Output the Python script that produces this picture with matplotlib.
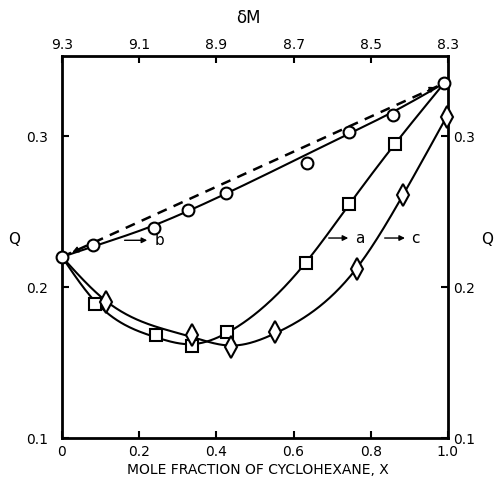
import numpy as np
import matplotlib
matplotlib.use("Agg")
import matplotlib.pyplot as plt

# ---- data ----
# curve b (circles)
b_x = [0.0, 0.080, 0.238, 0.326, 0.425, 0.744, 0.858, 0.99]
b_q = [0.220, 0.228, 0.239, 0.251, 0.262, 0.303, 0.314, 0.335]
b_out_x = [0.635]
b_out_q = [0.282]
# curve a (squares)
a_x = [0.085, 0.244, 0.337, 0.427, 0.632, 0.744, 0.863]
a_q = [0.189, 0.168, 0.161, 0.170, 0.216, 0.255, 0.295]
# curve c (diamonds)
c_x = [0.114, 0.337, 0.438, 0.552, 0.764, 0.883, 0.997]
c_q = [0.190, 0.168, 0.160, 0.170, 0.212, 0.261, 0.313]
# common end points
end_x = [0.0, 0.99]
end_q = [0.220, 0.335]

bottom_ticks = [0, 0.2, 0.4, 0.6, 0.8, 1.0]
bottom_labels = ["0", "0.2", "0.4", "0.6", "0.8", "1.0"]
top_labels = ["9.3", "9.1", "8.9", "8.7", "8.5", "8.3"]
q_ticks = [0.1, 0.2, 0.3]
q_labels = ["0.1", "0.2", "0.3"]


def smooth_curve(xs, ys, lam=3e-6, n=300, end_w=200.0):
    """Penalised smoothing spline on a fine grid (hand-drawn-like curve)."""
    x = np.asarray(xs, float)
    y = np.asarray(ys, float)
    xx = np.linspace(x.min(), x.max(), n)
    h = xx[1] - xx[0]
    B = np.zeros((len(x), n))
    for i, xi in enumerate(x):
        j = min(int((xi - xx[0]) / h), n - 2)
        t = (xi - xx[j]) / h
        B[i, j] = 1 - t
        B[i, j + 1] = t
    w = np.ones(len(x))
    w[np.argmin(x)] = end_w
    w[np.argmax(x)] = end_w
    D = np.diff(np.eye(n), 2, axis=0)
    A = B.T @ (w[:, None] * B) + (lam / h ** 3) * D.T @ D
    f = np.linalg.solve(A, B.T @ (w * y))
    return xx, f


fig = plt.figure(figsize=(4.96, 4.84), dpi=100)
ax = fig.add_axes([0.125, 0.095, 0.778, 0.789])
ax.set_xlim(0, 1.0)
ax.set_ylim(0.1, 0.353)

lw = 1.5
# dashed straight line between end points, with small arrow heads
ax.plot(end_x, end_q, ls=(0, (4, 3)), color="black", lw=1.8, zorder=2)
head = dict(arrowstyle="-|>", color="black", lw=1.0, mutation_scale=9)
dx = end_x[1] - end_x[0]
dq = end_q[1] - end_q[0]
ax.annotate("", xy=(end_x[0] + 0.02 * dx, end_q[0] + 0.02 * dq),
            xytext=(end_x[0] + 0.05 * dx, end_q[0] + 0.05 * dq), arrowprops=head)
ax.annotate("", xy=(end_x[1] - 0.015 * dx, end_q[1] - 0.015 * dq),
            xytext=(end_x[1] - 0.05 * dx, end_q[1] - 0.05 * dq), arrowprops=head)

bx, bq = smooth_curve(b_x, b_q, lam=6e-4)
ax.plot(bx, bq, color="black", lw=lw, zorder=2)
xx, yy = smooth_curve([end_x[0]] + a_x + [end_x[1]], [end_q[0]] + a_q + [end_q[1]], lam=4e-5)
ax.plot(xx, yy, color="black", lw=lw, zorder=2)
xx, yy = smooth_curve([end_x[0]] + c_x, [end_q[0]] + c_q, lam=4e-5)
ax.plot(xx, yy, color="black", lw=lw, zorder=2)

mk = dict(mfc="white", mec="black", mew=1.5, ls="none", zorder=3, clip_on=False)
ax.plot(b_x, b_q, marker="o", ms=8.5, **mk)
ax.plot(b_out_x, b_out_q, marker="o", ms=8.5, **mk)
ax.plot(a_x, a_q, marker="s", ms=8, **mk)
ax.plot(c_x, c_q, marker="d", ms=11, **mk)

# arrow labels
arrow = dict(arrowstyle="-|>", color="black", lw=1.0, mutation_scale=8)
fs = 10
ax.annotate("", xy=(0.228, 0.231), xytext=(0.155, 0.231), arrowprops=arrow)
ax.text(0.24, 0.231, "b", fontsize=fs + 1, va="center", ha="left")
ax.annotate("", xy=(0.749, 0.2325), xytext=(0.684, 0.2325), arrowprops=arrow)
ax.text(0.76, 0.2325, "a", fontsize=fs + 1, va="center", ha="left")
ax.annotate("", xy=(0.896, 0.2325), xytext=(0.829, 0.2325), arrowprops=arrow)
ax.text(0.905, 0.2325, "c", fontsize=fs + 1, va="center", ha="left")

for s in ax.spines.values():
    s.set_linewidth(2)

ax.set_xticks(bottom_ticks)
ax.set_xticklabels(bottom_labels, fontsize=fs)
ax.set_yticks(q_ticks)
ax.set_yticklabels(q_labels, fontsize=fs)
ax.tick_params(direction="in", length=5, width=1.5, pad=5)
ax.tick_params(axis="y", pad=10)

top = ax.secondary_xaxis("top")
top.set_xticks(bottom_ticks)
top.set_xticklabels(top_labels, fontsize=fs)
top.tick_params(direction="in", length=5, width=1.5, pad=3)

right = ax.secondary_yaxis("right")
right.set_yticks(q_ticks)
right.set_yticklabels(q_labels, fontsize=fs)
right.tick_params(direction="in", length=5, width=1.5, pad=4)

fig.text(248 / 496, 1 - 18 / 484, "δM", fontsize=fs + 2, ha="center", va="center")
fig.text(14 / 496, 1 - 240 / 484, "Q", fontsize=fs + 1, ha="center", va="center")
fig.text(487 / 496, 1 - 240 / 484, "Q", fontsize=fs + 1, ha="center", va="center")
fig.text(258 / 496, 1 - 470 / 484, "MOLE FRACTION OF CYCLOHEXANE, X",
         fontsize=fs, ha="center", va="center")

fig.savefig("out.png", dpi=100)
